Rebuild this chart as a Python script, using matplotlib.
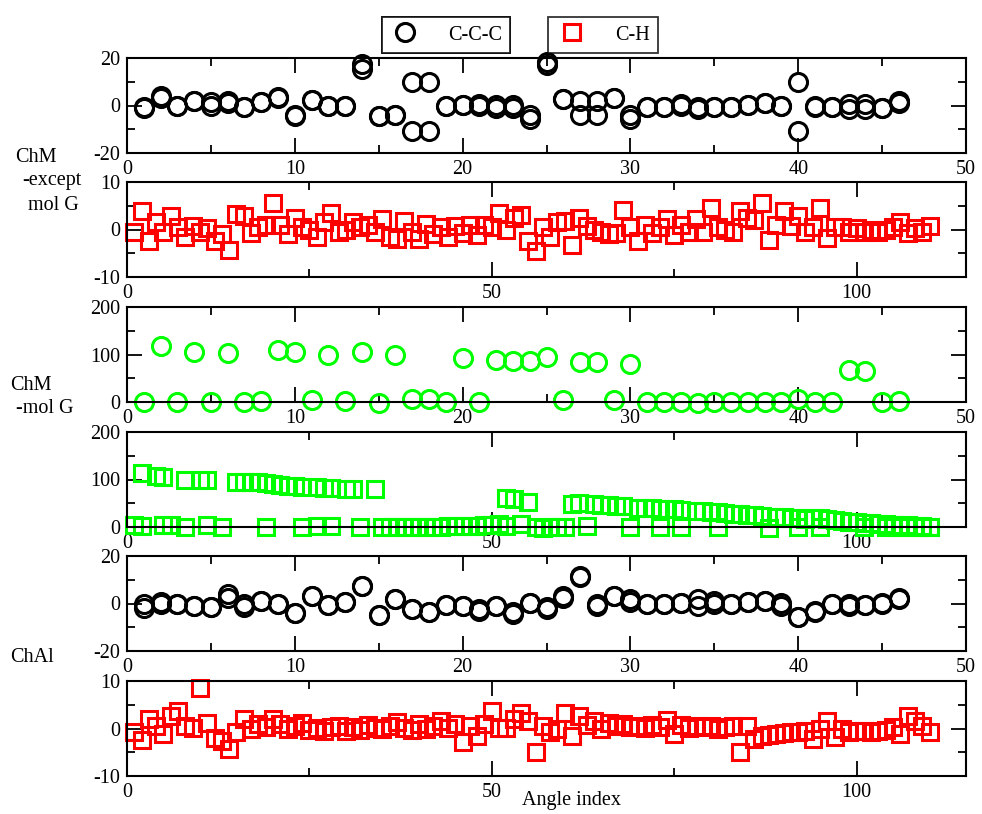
import numpy as np
import matplotlib
matplotlib.use("Agg")
import matplotlib.pyplot as plt
import matplotlib.ticker as ticker
from matplotlib.lines import Line2D

plt.rcParams['font.family'] = ['Liberation Serif', 'DejaVu Serif']
plt.rcParams['axes.unicode_minus'] = False

#%% data
idx_c = np.arange(1, 47)   # C-C-C angle index
idx_s = np.arange(1, 111)  # C-H angle index

# ChM except mol G, C-C-C (two overlapping sets)
chm_ccc_a = [-0.7, 3.8, -0.3, 1.7, 0, 2.0, -0.7, 1.4, 3.5, -3.8, 2.4, 0, 0, 17.6, -4.6, -3.8,
             10.1, 10.1, -0.4, 0.3, 0, 0.3, 0.3, -4.2, 18.3, 2.8, 2.1, 2.1, 3.2, -4.2, -0.7,
             -0.7, 0.7, -0.7, -0.7, -0.7, 0.3, 1.0, -0.3, 10.1, 0, -0.7, 0.7, 0.7, -1.1, 1.7]
chm_ccc_b = [-1.2, 3.3, -0.3, 2.1, 1.5, 1.1, -0.7, 1.4, 3.0, -4.6, 2.4, 0, 0, 15.5, -4.6, -3.8,
             -10.6, -10.6, -0.4, 0.3, 0.5, -1.1, -1.1, -5.6, 16.9, 2.8, -3.8, -3.8, 3.2, -5.6,
             -0.7, -0.7, -0.3, -1.4, -0.7, -0.7, 0.3, 1.0, -0.3, -10.6, -0.7, -0.7, -1.4, -1.4,
             -1.1, 1.1]

# ChM except mol G, C-H
chm_ch = [-0.5, 3.8, -2.5, 1.5, -0.5, 2.8, 0.5, -1.5, 0.8, -0.5,
          0.3, -2.5, -1.0, -4.3, 3.2, 2.8, -0.8, 0.5, 1.0, 5.6,
          1.0, -1.0, 2.5, 0.5, 0.0, -1.5, 1.5, 3.5, -0.5, 0.0,
          1.5, 0.5, 1.0, -0.5, 2.2, -1.5, -2.0, 1.8, -0.5, -2.0,
          1.2, -1.0, 0.5, -1.5, 0.8, -0.8, 1.0, -1.2, 1.0, 0.5,
          3.5, 0.0, 2.5, 3.0, -2.5, -4.5, 0.5, -1.5, 1.5, 1.8,
          -3.3, 2.5, 0.8, 0.0, -0.5, -1.0, -0.8, 4.2, 0.5, -2.5,
          1.0, -0.8, 0.5, 2.2, -1.2, 1.0, -0.5, 2.2, -0.5, 4.5,
          0.5, 0.0, -0.5, 3.8, 2.5, 2.0, 5.5, -2.2, 1.0, 4.0,
          0.8, 2.8, -0.5, 0.5, 4.5, -1.8, 0.5, 0.5, -0.5, 0.3,
          -0.5, 0.0, -0.5, 0.0, 0.5, 1.5, -0.8, 0.3, -0.5, 0.8]

# ChM mol G, C-C-C
molg_ccc = [0, 118, 1, 105, 0, 103, 0, 2, 110, 105, 4, 100, 2, 105, -3, 99, 6, 7, 0, 93,
            0, 89, 86, 86, 94, 4, 85, 84, 4, 80, 0, 0, 0, -2, 0, 0, 0, 0, 0, 7,
            0, -1, 68, 66, -1, 3]

# ChM mol G, C-H (upper and lower branches)
molg_ch_hi_x = [2, 4, 5, 8, 10, 11, 15, 16, 17, 18, 19, 20, 21, 22, 23, 24, 26, 27, 28, 30, 31, 34,
                52, 53, 55, 61, 62, 64, 65, 66, 67, 68, 70, 71, 72, 73, 74, 75, 76, 78, 79, 80,
                81, 82, 83, 84, 85, 86, 87, 89, 90, 91, 92, 93, 94, 95, 96, 97, 98, 99, 100,
                101, 102, 103, 104, 105, 106, 107, 108, 109, 110]
molg_ch_hi = [113, 108, 106, 100, 100, 100, 94, 94, 94, 94, 92, 91, 89, 87, 86, 85, 85, 83, 83, 79, 79, 79,
              61, 60, 53, 49, 50, 48, 47, 46, 44, 44, 41, 41, 39, 38, 38, 37, 36, 34, 33, 32,
              31, 29, 28, 27, 25, 25, 24, 21, 21, 20, 19, 17, 20, 20, 16, 14, 13, 11, 11,
              9, 8, 7, 6, 5, 5, 4, 3, 2, 1]
molg_ch_lo_x = [1, 2, 5, 6, 8, 11, 13, 19, 24, 26, 28, 32, 35, 36, 37, 38, 39, 40, 41, 42, 43, 44,
                45, 46, 47, 48, 49, 50, 51, 52, 54, 56, 57, 58, 59, 60, 63, 69, 73, 76, 81, 88,
                92, 95, 101, 104, 105, 106, 107, 108, 109, 110]
molg_ch_lo = [5, 2, 5, 4, 0, 5, 0, 0, 0, 3, 3, 0, 0, 0, 0, -1, 0, 0, 1, 0, 1, 2,
              2, 2, 3, 3, 4, 4, 7, 3, 6, 0, -2, 0, 0, 0, 2, 0, 0, 0, 0, -2,
              0, 0, 0, 0, 0, 0, -1, 0, -1, 0]

# ChAl, C-C-C
chal_ccc_a = [-0.3, 0.8, 0, -1, -1.4, 3.8, 0, 1.1, -0.3, -4.1, 3.2, -0.7, 0.8, 7.3, -4.7, 1.8,
              -2.3, -3.7, -0.7, -1.0, -2.3, -1.0, -3.7, 0.4, -1.6, 2.5, 11.1, -0.3, 3.2, 1.8,
              -0.3, -0.3, 0.4, 1.8, 1.1, -0.3, 0.8, 1.1, 0.4, -5.5, -3.0, 0.0, -0.3, -0.7, 0.4, 2.5]
chal_ccc_b = [-2.0, 0, 0, -1, -1.4, 2.5, -1.6, 1.1, -0.3, -4.1, 3.2, -0.7, 0.8, 7.3, -4.7, 1.8,
              -2.3, -3.7, -0.7, -1.0, -3.0, -1.0, -4.4, 0.4, -2.3, 3.2, 11.6, -1.0, 3.2, 0.8,
              -0.3, -0.3, 0.4, -1.0, 0.0, -0.3, 0.8, 1.1, -1.0, -5.5, -3.7, 0.0, -1.0, -0.7, -0.3, 1.8]

# ChAl, C-H
chal_ch = [-0.8, -2.5, 1.9, 0.6, -1.2, 2.6, 3.7, 0.6, 0.2, 8.5,
           1.2, -1.9, -2.6, -4.3, -0.8, 1.9, -0.1, 0.9, 0.3, 1.9,
           0.9, -0.2, 0.5, 1.2, -0.3, 0.2, -0.5, 0.3, 0.5, -0.5,
           0.4, -0.3, 0.8, 0.2, -0.2, 0.6, 1.3, 0.2, -0.4, 1.0,
           0.0, 0.6, 1.5, 0.2, 1.0, -2.9, 0.6, -1.5, 1.0, 3.7,
           0.2, 0.2, 2.0, 3.3, 1.5, -5.0, 0.6, -0.8, -0.2, 3.3,
           -1.5, 2.6, 0.8, 1.5, 0.0, 1.2, 0.5, 0.9, 0.3, 0.6,
           0.2, 0.8, 0.4, 1.8, -1.2, 0.8, 0.2, 0.6, 0.3, 0.5,
           -0.2, 0.3, 0.6, -5.0, 0.6, -2.2, -1.5, -1.3, -1.2, -1.0,
           -0.8, -0.8, -0.5, -2.2, 0.0, 1.6, -1.8, 0.0, -0.8, -0.6,
           -0.6, -0.8, -0.6, -0.4, 0.4, -1.2, 2.6, 1.6, 0.5, -0.8]

#%% plot
W, H = 982, 814
fig = plt.figure(figsize=(W/100, H/100), dpi=100)
FS = 14.5

def make_ax(top, bot, xmax, xmaj, xmin_, ymin, ymax, ymaj, ymin_):
    ax = fig.add_axes([127/W, 1 - bot/H, 839/W, (bot - top)/H])
    ax.set_xlim(0, xmax)
    ax.set_ylim(ymin, ymax)
    ax.xaxis.set_major_locator(ticker.MultipleLocator(xmaj))
    ax.xaxis.set_minor_locator(ticker.MultipleLocator(xmin_))
    ax.yaxis.set_major_locator(ticker.MultipleLocator(ymaj))
    ax.yaxis.set_minor_locator(ticker.MultipleLocator(ymin_))
    ax.tick_params(which='both', direction='in', top=True, right=True, width=1.3,
                   labelsize=FS, pad=5)
    ax.tick_params(which='major', length=11)
    ax.tick_params(which='minor', length=6)
    for s in ax.spines.values():
        s.set_linewidth(1.5)
    ax.patch.set_alpha(0)
    return ax

circ = dict(ls='none', marker='o', ms=13, mew=2.2, mfc='none', clip_on=False)
sqr = dict(ls='none', marker='s', ms=11.5, mew=2.2, mfc='none', clip_on=False)

ax1 = make_ax(58, 153, 50, 10, 5, -20, 20, 20, 10)
ax1.plot(idx_c, chm_ccc_a, mec='k', **circ)
ax1.plot(idx_c, chm_ccc_b, mec='k', **circ)

ax2 = make_ax(182, 277, 115, 50, 25, -10, 10, 10, 5)
ax2.plot(idx_s, chm_ch, mec='r', **sqr)

ax3 = make_ax(307, 402, 50, 10, 5, 0, 200, 100, 50)
ax3.plot(idx_c, molg_ccc, mec='#00ff00', **circ)

ax4 = make_ax(432, 527, 115, 50, 25, 0, 200, 100, 50)
ax4.plot(molg_ch_hi_x, molg_ch_hi, mec='#00ff00', **sqr)
ax4.plot(molg_ch_lo_x, molg_ch_lo, mec='#00ff00', **sqr)

ax5 = make_ax(556, 651, 50, 10, 5, -20, 20, 20, 10)
ax5.plot(idx_c, chal_ccc_a, mec='k', **circ)
ax5.plot(idx_c, chal_ccc_b, mec='k', **circ)

ax6 = make_ax(681, 776, 115, 50, 25, -10, 10, 10, 5)
ax6.plot(idx_s, chal_ch, mec='r', **sqr)

# side labels
fig.text(15/W, 1 - 158/H, 'ChM', fontsize=FS, va='center')
fig.text(22/W, 1 - 181/H, '-except', fontsize=FS, va='center')
fig.text(28/W, 1 - 205/H, 'mol G', fontsize=FS, va='center')
fig.text(10/W, 1 - 385/H, 'ChM', fontsize=FS, va='center')
fig.text(16/W, 1 - 408/H, '-mol G', fontsize=FS, va='center')
fig.text(10/W, 1 - 658/H, 'ChAl', fontsize=FS, va='center')

fig.text(572/W, 1 - 801/H, 'Angle index', fontsize=FS, ha='center', va='center')

# legend boxes
leg1 = fig.legend(handles=[Line2D([], [], mec='k', **circ)], labels=['C-C-C'],
                  loc='center', bbox_to_anchor=(446/W, 1 - 35/H), frameon=True,
                  fancybox=False, edgecolor='k', fontsize=FS, handlelength=1.5,
                  handletextpad=1.4, borderpad=0.4)
leg1.get_frame().set_linewidth(1.3)
leg2 = fig.legend(handles=[Line2D([], [], mec='r', **sqr)], labels=['C-H'],
                  loc='center', bbox_to_anchor=(603/W, 1 - 35/H), frameon=True,
                  fancybox=False, edgecolor='k', fontsize=FS, handlelength=1.5,
                  handletextpad=1.4, borderpad=0.4)
leg2.get_frame().set_linewidth(1.3)
fig.add_artist(leg1)

plt.savefig('out.png', dpi=100)
